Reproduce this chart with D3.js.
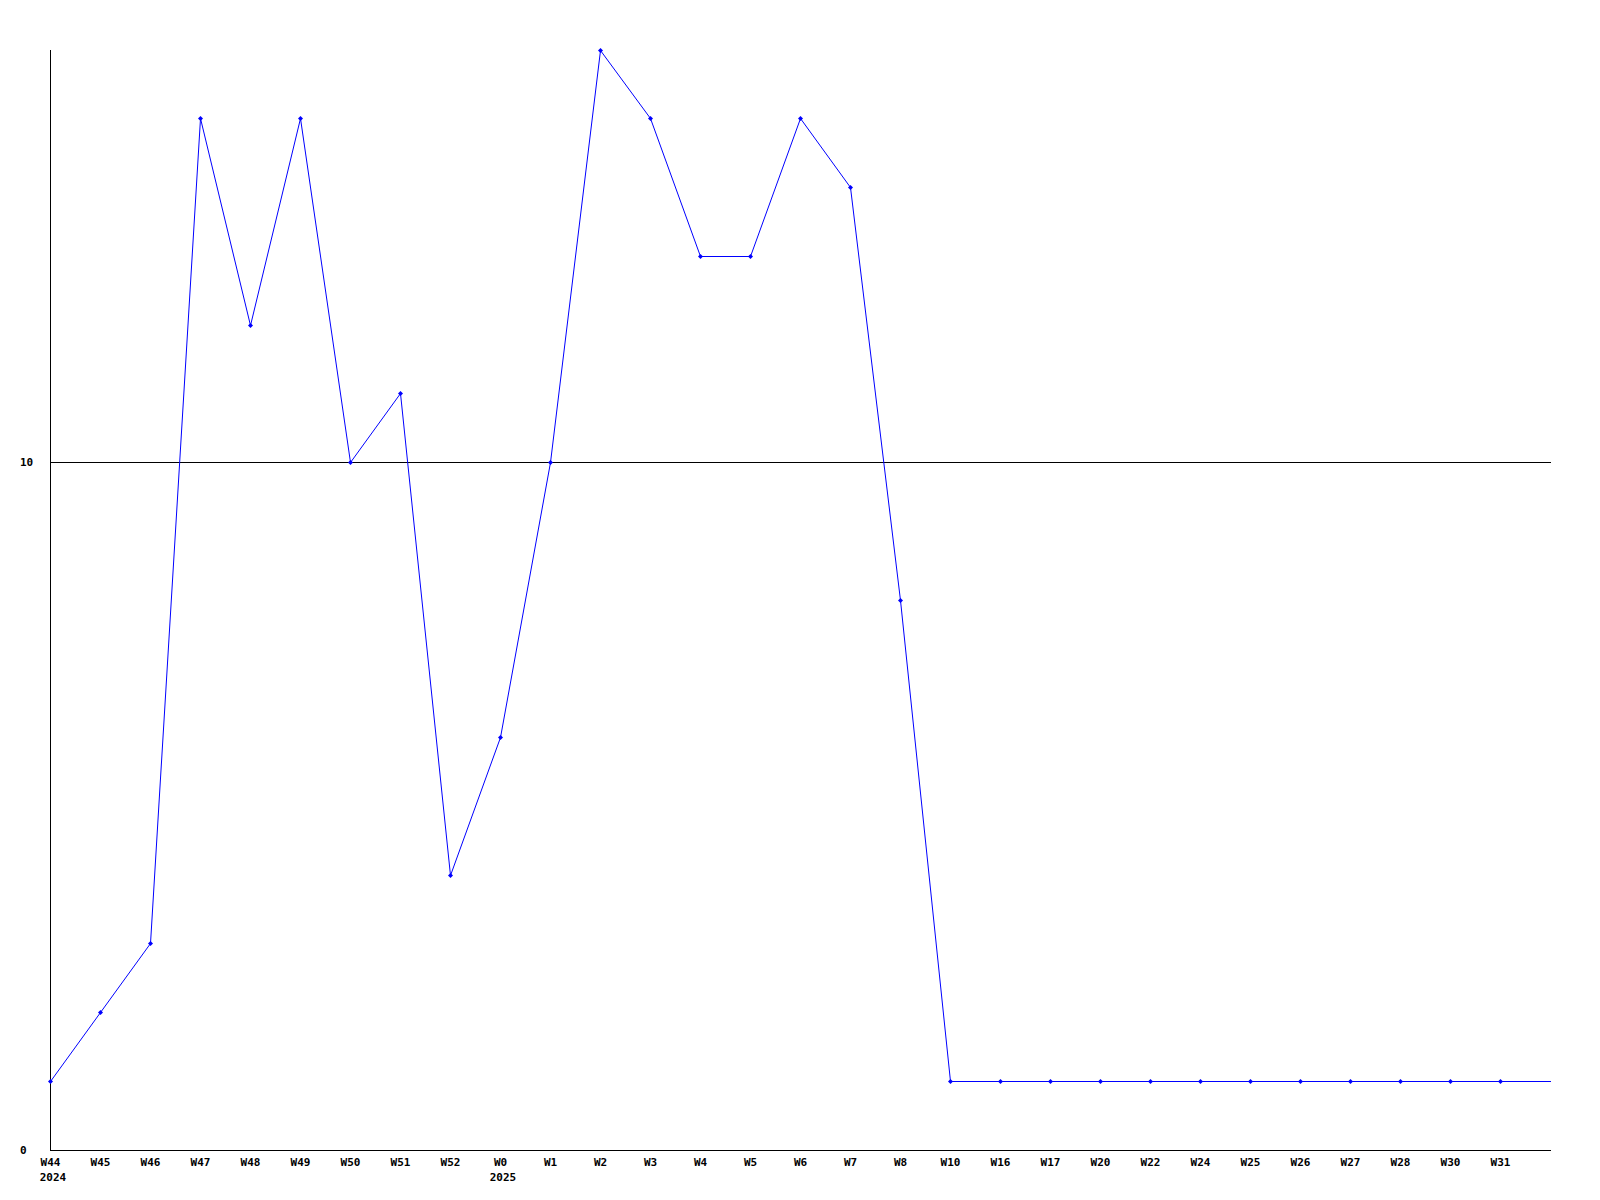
<!DOCTYPE html>
<html><head><meta charset="utf-8">
<script src="https://cdn.jsdelivr.net/npm/d3@7"></script>
<style>body{margin:0;background:#fff}svg{display:block}text{font-family:"DejaVu Sans Mono",monospace;font-weight:bold;font-size:11px;fill:#000}</style>
</head><body>
<script>
const categories = ["W44","W45","W46","W47","W48","W49","W50","W51","W52","W0","W1","W2","W3","W4","W5","W6","W7","W8","W10","W16","W17","W20","W22","W24","W25","W26","W27","W28","W30","W31"];
const yearLabels = {"W44":"2024","W0":"2025"};
const values = [1,2,3,15,12,15,10,11,4,6,10,16,15,13,13,15,14,8,1,1,1,1,1,1,1,1,1,1,1,1];
const yTicks = [0,10];

(function(){
const W=1600,H=1200, mL=50, mT=50, mB=1150, mR=1551;
const svg=d3.select("body").append("svg").attr("width",W).attr("height",H);
const x=d3.scaleLinear().domain([0,categories.length]).range([mL,mL+categories.length*50]);
const y=d3.scaleLinear().domain([0,16]).range([mB,mT]);
const py=v=>Math.floor(y(v))+0.5;

svg.append("line").attr("x1",mL).attr("x2",mR).attr("y1",py(10)).attr("y2",py(10)).attr("stroke","#000").attr("shape-rendering","crispEdges");
svg.append("line").attr("x1",mL+0.5).attr("x2",mL+0.5).attr("y1",mT).attr("y2",mB).attr("stroke","#000").attr("shape-rendering","crispEdges");
svg.append("line").attr("x1",mL).attr("x2",mR).attr("y1",mB+0.5).attr("y2",mB+0.5).attr("stroke","#000").attr("shape-rendering","crispEdges");

yTicks.forEach(t=>{
  svg.append("text").attr("x",20).attr("y",Math.floor(y(t))+4).text(t);
});
categories.forEach((c,i)=>{
  svg.append("text").attr("x",x(i)+0.5).attr("y",mB+16).attr("text-anchor","middle").text(c);
  if(yearLabels[c]) svg.append("text").attr("x",x(i)+3).attr("y",mB+31).attr("text-anchor","middle").text(yearLabels[c]);
});

const line=d3.line().x((d,i)=>x(i)+0.5).y(d=>py(d));
svg.append("path").datum(values).attr("d",line).attr("fill","none").attr("stroke","#0000ff").attr("stroke-width",1);
// continuation of last value to the axis end
const last=values.length-1;
svg.append("line").attr("x1",x(last)+0.5).attr("x2",mR).attr("y1",py(values[last])).attr("y2",py(values[last])).attr("stroke","#0000ff").attr("shape-rendering","crispEdges");
svg.selectAll("path.m").data(values).enter().append("path").attr("class","m")
  .attr("d",(d,i)=>{const cx=x(i)+0.5, cy=py(d); return `M${cx-2.5},${cy}L${cx},${cy-2.5}L${cx+2.5},${cy}L${cx},${cy+2.5}Z`;})
  .attr("fill","#0000ff");
})();
</script>
</body></html>
